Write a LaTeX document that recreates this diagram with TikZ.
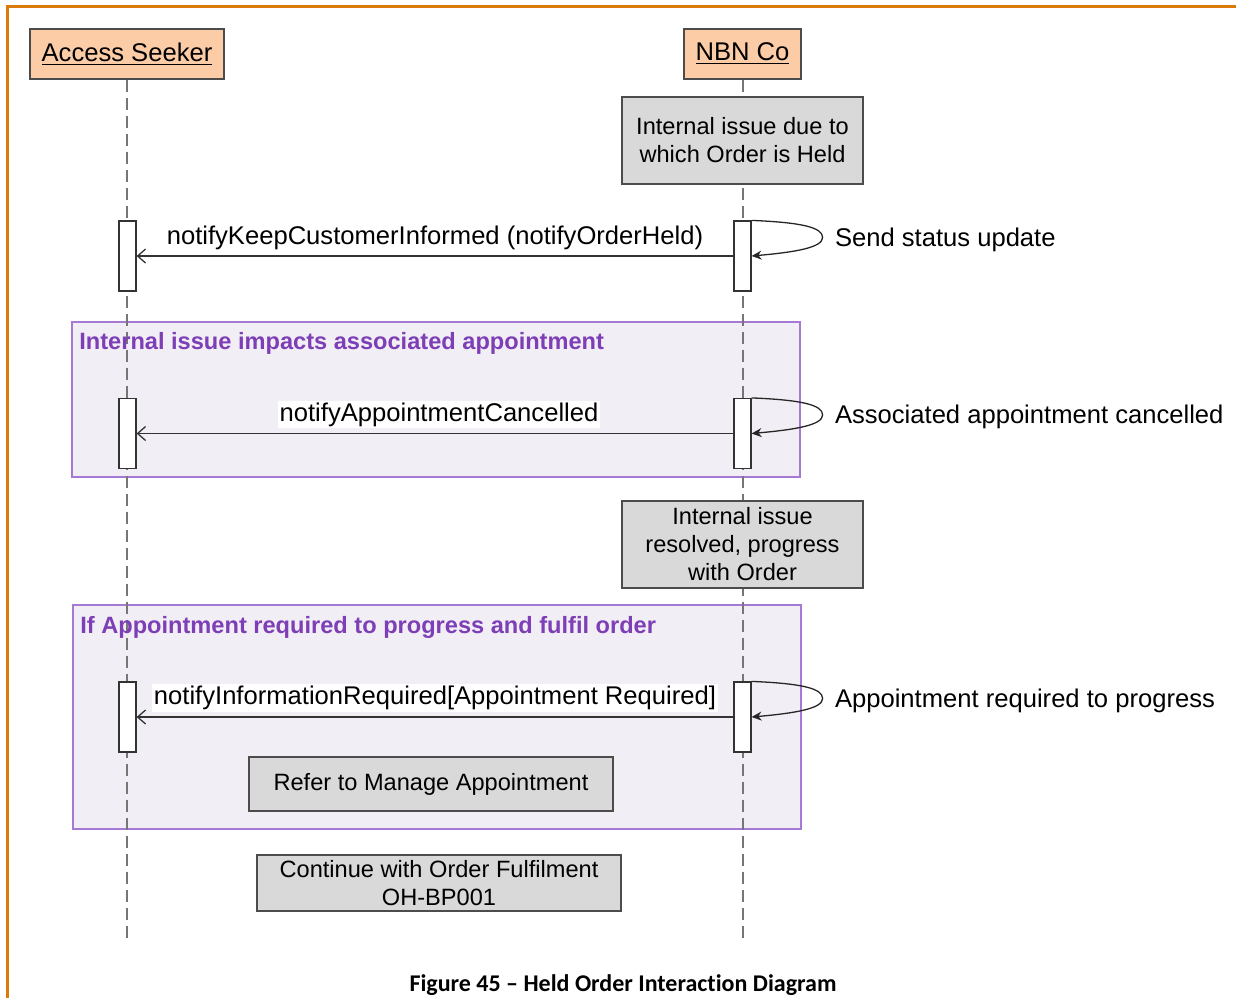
\documentclass[tikz,border=0pt]{standalone}
\usepackage{fontspec}
\setmainfont{Liberation Sans}
\newfontfamily\capfont[Ligatures=NoCommon]{Carlito}
\usetikzlibrary{arrows.meta, positioning, calc}

\definecolor{peach}{HTML}{FBCCA6}
\definecolor{notegray}{HTML}{D9D9D9}
\definecolor{fraglav}{HTML}{F1EFF5}
\definecolor{fragline}{HTML}{A67AD4}
\definecolor{fragtext}{HTML}{7D3EB6}
\definecolor{pageorange}{HTML}{D97A0B}
\definecolor{lifegray}{HTML}{767676}

\begin{document}
\begin{tikzpicture}[
    x=0.5pt, y=-0.5pt,
    actor/.style={
        draw=black!70,
        fill=peach,
        line width=0.7pt,
        minimum height=25pt,
        inner sep=0pt,
        font=\fontsize{12.8}{15}\selectfont
    },
    note/.style={
        draw=black!70,
        fill=notegray,
        line width=0.7pt,
        align=center,
        inner sep=0pt,
        font=\fontsize{11.8}{14}\selectfont
    },
    bar/.style={
        draw=black!80,
        fill=white,
        line width=0.6pt,
        minimum width=8.5pt,
        minimum height=35pt,
        inner sep=0pt
    },
    frag/.style={
        draw=fragline,
        fill=fraglav,
        line width=0.8pt,
        inner sep=0pt,
        anchor=north west
    },
    fraglabel/.style={
        anchor=west,
        inner sep=0pt,
        text=fragtext,
        font=\fontsize{11.8}{14}\selectfont\bfseries
    },
    msg/.style={
        draw=black!80,
        line width=0.65pt,
        -{Straight Barb[length=4pt,width=7pt]}
    },
    selfmsg/.style={
        draw=black!85,
        line width=0.65pt,
        -{Stealth[length=5pt,width=4.5pt]}
    },
    msglabel/.style={
        fill=white,
        inner sep=1pt,
        font=\fontsize{12.8}{15}\selectfont
    },
    selflabel/.style={
        inner sep=0pt,
        font=\fontsize{12.8}{15}\selectfont
    },
    lifeline/.style={
        draw=lifegray,
        line width=1pt,
        dash pattern=on 6pt off 3pt
    }
]

\useasboundingbox (0,0) rectangle (1236,998);

% Page frame
\draw[pageorange, line width=1.5pt] (7,998) -- (7,6) -- (1236,6);

% Fragments
\node[frag, minimum width=364pt, minimum height=77.5pt] (frag1) at (71,321) {};
\node[frag, minimum width=364pt, minimum height=112pt] (frag2) at (72,604) {};

% Actors and lifelines
\node[actor, minimum width=97pt] (as) at (127,54) {\underline{Access Seeker}};
\node[actor, minimum width=58.5pt] (nbn) at (742.5,54) {\underline{NBN Co}};
\coordinate (asend) at (127,940);
\coordinate (nbnend) at (742.5,940);
\draw[lifeline] (as.south) -- (asend);
\draw[lifeline] (nbn.south) -- (nbnend);

\node[fraglabel] at ($(frag1.north west)+(8,22)$) {Internal issue impacts associated appointment};
\node[fraglabel] at ($(frag2.north west)+(8,23)$) {If Appointment required to progress and fulfil order};

% Notes
\node[note, minimum width=120.5pt, minimum height=43.5pt] (held) at (742.5,140.5) {Internal issue due to\\which Order is Held};
\node[note, minimum width=120.5pt, minimum height=43.5pt] (resolved) at (742.5,544.5) {Internal issue\\resolved, progress\\with Order};
\node[note, minimum width=182pt, minimum height=27pt] (refer) at (431,784) {Refer to Manage Appointment};
\node[note, minimum width=182pt, minimum height=28pt] (cont) at (439,883) {Continue with Order Fulfilment\\OH-BP001};

% Activation bars
\node[bar] (as1) at (127.5,256) {};
\node[bar] (nbn1) at (742.5,256) {};
\node[bar] (as2) at (127.5,433.5) {};
\node[bar] (nbn2) at (742.5,433.5) {};
\node[bar] (as3) at (127.5,717) {};
\node[bar] (nbn3) at (742.5,717) {};

% Messages
\draw[msg] (nbn1.west) -- node[msglabel, midway, yshift=9pt] {notifyKeepCustomerInformed (notifyOrderHeld)} (as1.east);
\draw[msg] (nbn2.west) -- node[msglabel, midway, xshift=2pt, yshift=9.5pt] {notifyAppointmentCancelled} (as2.east);
\draw[msg] (nbn3.west) -- node[msglabel, midway, yshift=9.5pt] {notifyInformationRequired[Appointment Required]} (as3.east);

% Self messages
\foreach \b/\txt in {nbn1/Send status update, nbn2/Associated appointment cancelled, nbn3/Appointment required to progress} {
    \coordinate (tip-\b) at ($(\b.north east)+(71,17)$);
    \draw[selfmsg] (\b.north east) .. controls +(50,2) and +(0,-10) .. (tip-\b) .. controls +(0,10) and +(45,-4) .. (\b.east);
    \node[selflabel, right=6pt of tip-\b, yshift=-1pt] {\txt};
}

% Caption
\node[font=\capfont\bfseries\fontsize{12}{14}\selectfont, inner sep=0pt] (caption) at (623,985) {Figure 45 – Held Order Interaction Diagram};

\end{tikzpicture}
\end{document}
